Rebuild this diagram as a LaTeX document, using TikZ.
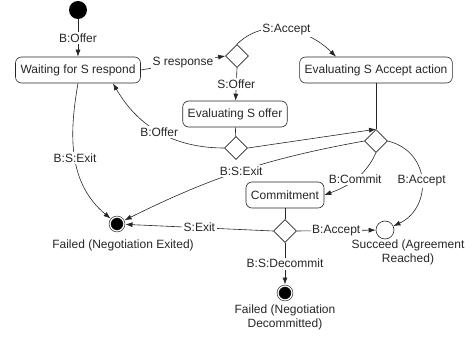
\documentclass[tikz,border=0pt]{standalone}
\usepackage{fontspec}
\setmainfont{Liberation Sans}
\usetikzlibrary{shapes.geometric, arrows.meta, positioning}

\begin{document}
\begin{tikzpicture}[x=1pt, y=1pt, >={Latex[length=7pt, width=5pt]},
    font=\fontsize{12}{14}\selectfont, color=black!85, line width=0.6pt,
    state/.style={rectangle, draw, rounded corners=6pt, minimum height=26pt, inner xsep=5pt},
    choice/.style={diamond, draw, minimum size=23pt, inner sep=0pt},
    start/.style={circle, fill=black, minimum size=18pt, inner sep=0pt},
    stop/.style={circle, fill=black, draw, double=white, double distance=1.2pt,
        minimum size=14pt, inner sep=0pt, outer sep=1.5pt},
    tag/.style={fill=white, inner sep=1.5pt}]
    \useasboundingbox (0,0) rectangle (474,-339);

    % Nodes
    \node (Start) [start] at (78,-10) {};
    \node (Waiting) [state] at (78,-70) {Waiting for S respond};
    \node (Respond) [choice] at (237,-56) {};
    \node (EvalOffer) [state] at (235,-114) {Evaluating S offer};
    \node (EvalAccept) [state] at (376,-70) {Evaluating S Accept action};
    \node (OfferChoice) [choice] at (236,-148) {};
    \node (AcceptChoice) [choice] at (376,-141) {};
    \node (Commit) [state] at (285,-195) {Commitment};
    \node (CommitChoice) [choice] at (285,-231) {};
    \node (Exited) [stop] at (117,-224) {};
    \node (Succeed) [circle, draw, minimum size=18pt] at (385,-230) {};
    \node (Decommitted) [stop] at (285,-293) {};

    % Names under the end states
    \node (ExitedText) [below=4pt of Exited, xshift=6pt] {Failed (Negotiation Exited)};
    \node (SucceedText) [below=-3pt of Succeed, xshift=23pt, align=center] {Succeed (Agreement\\Reached)};
    \node (DecommittedText) [below=0pt of Decommitted, align=center] {Failed (Negotiation\\Decommitted)};

    % Transitions
    \draw [->] (Start) -- node[tag] {B:Offer} (Waiting);
    \draw [->] (Waiting.east) -- node[tag] {S response} (Respond.west);
    \draw [->] (Respond.north) to[out=45, in=135] node[tag] {S:Accept} ([xshift=-40pt]EvalAccept.north);
    \draw [->] (Respond.south) -- node[tag] {S:Offer} (EvalOffer);
    \draw (EvalOffer) -- (OfferChoice);
    \draw [->] (OfferChoice.west) to[out=180, in=-60] node[tag] {B:Offer} ([xshift=35pt]Waiting.south);
    \draw [->] (OfferChoice.east) -- (AcceptChoice.north);
    \draw (EvalAccept) -- (AcceptChoice);
    \draw [->] (Waiting.south) to[out=-100, in=140] node[tag] {B:S:Exit} (Exited);
    \draw [->] (AcceptChoice.west) to[bend right=8] node[tag] {B:S:Exit} (Exited);
    \draw [->] (AcceptChoice.south) to[out=-115, in=20] node[tag] {B:Commit} (Commit.east);
    \draw [->] (AcceptChoice.east) .. controls (432,-152) and (432,-208) .. (Succeed) node[tag, midway] {B:Accept};
    \draw (Commit) -- (CommitChoice);
    \draw [->] (CommitChoice.west) -- node[tag] {S:Exit} (Exited);
    \draw [->] (CommitChoice.east) -- node[tag] {B:Accept} (Succeed);
    \draw [->] (CommitChoice.south) -- node[tag] {B:S:Decommit} (Decommitted);
\end{tikzpicture}
\end{document}
